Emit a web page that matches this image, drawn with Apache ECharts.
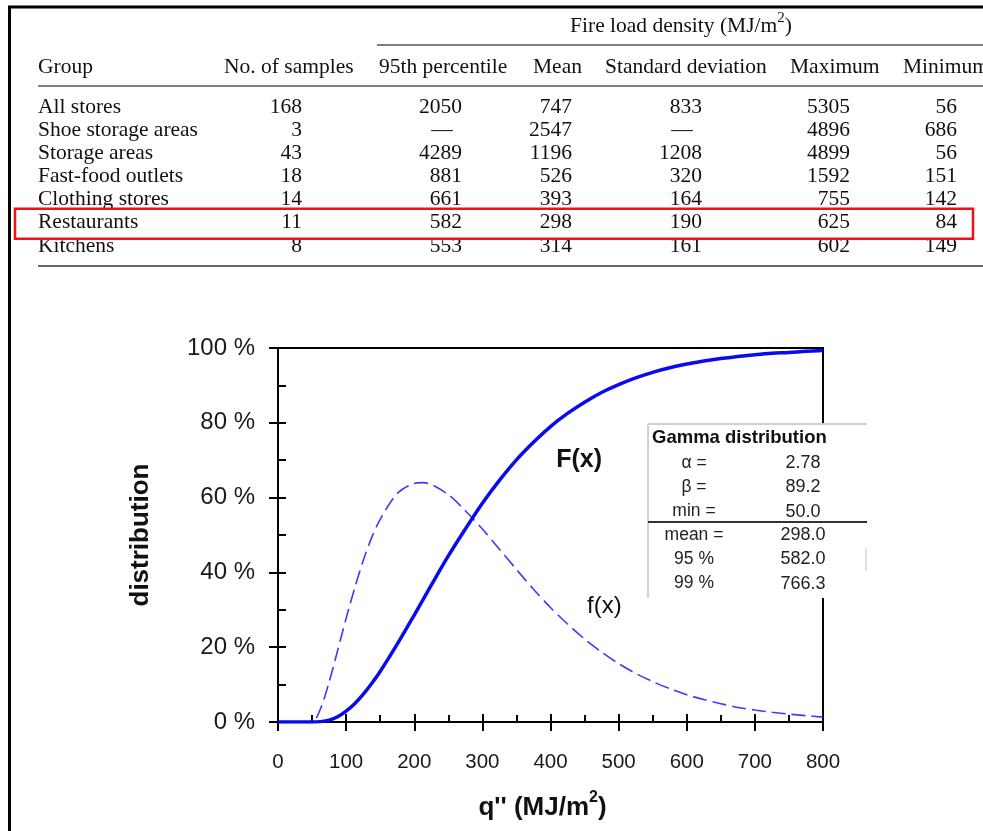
<!DOCTYPE html>
<html>
<head>
<meta charset="utf-8">
<script src="https://cdn.jsdelivr.net/npm/echarts@6/dist/echarts.min.js"></script>
<style>
  html, body { margin: 0; padding: 0; background: #fff; }
  #main { width: 983px; height: 831px; }
</style>
</head>
<body>
<div id="main"></div>
<script>
// ---- Table data: fire load density by occupancy group (MJ/m2) ----
const headers = ['Group', 'No. of samples', '95th percentile', 'Mean', 'Standard deviation', 'Maximum', 'Minimum'];
const groups = ['All stores', 'Shoe storage areas', 'Storage areas', 'Fast-food outlets', 'Clothing stores', 'Restaurants', 'Kitchens'];
const sampleCounts = [168, 3, 43, 18, 14, 11, 8];
const percentile95 = [2050, null, 4289, 881, 661, 582, 553];
const meanLoad = [747, 2547, 1196, 526, 393, 298, 314];
const stdDev = [833, null, 1208, 320, 164, 190, 161];
const maxLoad = [5305, 4896, 4899, 1592, 755, 625, 602];
const minLoad = [56, 686, 56, 151, 142, 84, 149];
const highlightedGroup = 'Restaurants';

// ---- Fitted gamma distribution for restaurants ----
const qValues   = [0, 25, 50, 62.5, 75, 87.5, 100, 112.5, 125, 137.5, 150, 175, 200, 212.5, 225, 250, 275, 300, 325, 350, 375, 400,
                   425, 450, 475, 500, 525, 550, 575, 600, 625, 650, 675, 700, 725, 750, 775, 800];
const cdfPercent = [0, 0, 0, 0.1, 0.5, 1.4, 2.9, 4.9, 7.4, 10.3, 13.5, 20.8, 28.6, 32.6, 36.6, 44.4, 51.6, 58.5, 64.6, 70.1, 74.8, 79.0,
                   82.5, 85.5, 88.1, 90.2, 92.0, 93.5, 94.7, 95.7, 96.5, 97.2, 97.7, 98.2, 98.6, 98.8, 99.1, 99.3];
const pdfPercent = [0, 0, 0, 3.6, 10.7, 19.1, 27.7, 35.8, 43.1, 49.3, 54.2, 61.1, 63.8, 64.0, 63.5, 60.8, 56.5, 51.6, 46.2, 40.8, 35.5, 30.6,
                   26.2, 22.2, 18.7, 15.6, 13.0, 10.8, 8.9, 7.3, 6.0, 4.9, 3.9, 3.2, 2.6, 2.1, 1.7, 1.3];
const gammaTitle = 'Gamma distribution';
const gammaParamLabels = ['\u03b1 =', '\u03b2 =', 'min ='];
const gammaParamValues = ['2.78', '89.2', '50.0'];
const gammaStatLabels = ['mean =', '95 %', '99 %'];
const gammaStatValues = ['298.0', '582.0', '766.3'];

// axis ranges
const qMin = 0, qMax = 800, qStep = 100;
const pMin = 0, pMax = 100, pStep = 20;

// ---- layout ----
const SERIF = '"Liberation Serif", "Times New Roman", serif';
const SANS = '"Liberation Sans", Arial, sans-serif';
const headerLeft = [38, 224, 379, 533, 605, 790, 903];
const valueRight = [302, 462, 572, 702, 850, 957];
const rowTop = 107, rowStep = 23.15;
const plot = { left: 278, right: 160, top: 348, bottom: 109 };

const chart = echarts.init(document.getElementById('main'), null, { renderer: 'canvas' });

function tableText(x, y, text, align) {
  return {
    type: 'text', x: x, y: y, silent: true,
    style: { text: text, fill: '#111', font: '21.5px ' + SERIF, align: align, textAlign: align,
             verticalAlign: 'middle', textVerticalAlign: 'middle' }
  };
}
function hline(x1, x2, y, color, w) {
  return { type: 'line', silent: true, shape: { x1: x1, y1: y, x2: x2, y2: y }, style: { stroke: color, lineWidth: w } };
}

const graphics = [];
// page frame
graphics.push(hline(8, 983, 7, '#000', 3));
graphics.push({ type: 'line', silent: true, shape: { x1: 9.5, y1: 6, x2: 9.5, y2: 831 }, style: { stroke: '#000', lineWidth: 3 } });

// table rules
graphics.push(hline(377, 983, 45, '#555', 1.5));
graphics.push(hline(38, 983, 86, '#555', 1.5));
graphics.push(hline(38, 983, 266, '#666', 2));

// table header
graphics.push({
  type: 'text', x: 681, y: 26, silent: true,
  style: {
    text: '{a|Fire load density (MJ/m}{s|2}{a|)}', align: 'center', textAlign: 'center',
    verticalAlign: 'middle', textVerticalAlign: 'middle',
    rich: {
      a: { fontFamily: SERIF, fontSize: 21.5, lineHeight: 30, fill: '#111', color: '#111' },
      s: { fontFamily: SERIF, fontSize: 15, lineHeight: 16, verticalAlign: 'top', fill: '#111', color: '#111' }
    }
  }
});
headers.forEach(function (h, i) { graphics.push(tableText(headerLeft[i], 67, h, 'left')); });

// table body
const numericCols = [sampleCounts, percentile95, meanLoad, stdDev, maxLoad, minLoad];
groups.forEach(function (g, r) {
  const y = rowTop + r * rowStep;
  graphics.push(tableText(headerLeft[0], y, g, 'left'));
  numericCols.forEach(function (col, c) {
    const v = col[r];
    if (v === null) {
      graphics.push(tableText(valueRight[c] - 20, y, '\u2014', 'center'));
    } else {
      graphics.push(tableText(valueRight[c], y, String(v), 'right'));
    }
  });
  if (g === highlightedGroup) {
    graphics.push({
      type: 'rect', silent: true, z: 10,
      shape: { x: 15, y: y - 14, width: 958, height: 30 },
      style: { fill: 'none', stroke: '#f0101a', lineWidth: 2.5 }
    });
  }
});

// gamma parameter panel
const panel = { type: 'group', x: 648, y: 424, z: 50, children: [] };
panel.children.push({ type: 'rect', shape: { x: 0, y: 0, width: 219, height: 174 }, style: { fill: '#fff' } });
panel.children.push({ type: 'line', shape: { x1: 0, y1: 0, x2: 219, y2: 0 }, style: { stroke: '#cfcfcf', lineWidth: 2 } });
panel.children.push({ type: 'line', shape: { x1: 0, y1: 0, x2: 0, y2: 174 }, style: { stroke: '#cfcfcf', lineWidth: 2 } });
panel.children.push({ type: 'line', shape: { x1: 0, y1: 98, x2: 219, y2: 98 }, style: { stroke: '#333', lineWidth: 2 } });
panel.children.push({ type: 'line', shape: { x1: 218, y1: 124, x2: 218, y2: 147 }, style: { stroke: '#d4d4d4', lineWidth: 1.5 } });
panel.children.push({
  type: 'text', x: 4, y: 14,
  style: { text: gammaTitle, fill: '#111', font: 'bold 18.5px ' + SANS, align: 'left', textAlign: 'left',
           verticalAlign: 'middle', textVerticalAlign: 'middle' }
});
function panelRow(label, value, y) {
  panel.children.push({
    type: 'text', x: 46, y: y,
    style: { text: label, fill: '#222', font: '17.5px ' + SANS, align: 'center', textAlign: 'center',
             verticalAlign: 'middle', textVerticalAlign: 'middle' }
  });
  panel.children.push({
    type: 'text', x: 155, y: y,
    style: { text: value, fill: '#222', font: '18px ' + SANS, align: 'center', textAlign: 'center',
             verticalAlign: 'middle', textVerticalAlign: 'middle' }
  });
}
gammaParamLabels.forEach(function (l, i) { panelRow(l, gammaParamValues[i], 39 + i * 24.3); });
gammaStatLabels.forEach(function (l, i) { panelRow(l, gammaStatValues[i], 111 + i * 24.3); });
graphics.push(panel);

const axisFont = { fontFamily: SANS, color: '#1a1a1a' };

function valueAxisX(gridIndex, inside) {
  return {
    type: 'value', gridIndex: gridIndex, min: qMin, max: qMax, interval: qStep,
    axisLine: { show: !inside, lineStyle: { color: '#000', width: 2 } },
    axisTick: { show: true, inside: inside, length: inside ? 8 : 9, lineStyle: { color: '#000', width: 2 } },
    minorTick: { show: inside, splitNumber: 2, length: 7, lineStyle: { color: '#000', width: 2 } },
    splitLine: { show: false },
    axisLabel: { show: !inside, margin: 30, fontSize: 20.5, ...axisFont },
    name: inside ? '' : "{a|q'' (MJ/m}{s|2}{a|)}{p|}",
    nameLocation: 'middle', nameGap: 68,
    nameTextStyle: {
      rich: {
        a: { fontFamily: SANS, fontSize: 26, fontWeight: 'bold', color: '#111', lineHeight: 36 },
        s: { fontFamily: SANS, fontSize: 16, fontWeight: 'bold', color: '#111', verticalAlign: 'top', lineHeight: 16 },
        p: { width: 16 }
      }
    }
  };
}
function valueAxisY(gridIndex, inside) {
  return {
    type: 'value', gridIndex: gridIndex, min: pMin, max: pMax, interval: pStep,
    axisLine: { show: !inside, lineStyle: { color: '#000', width: 2 } },
    axisTick: { show: true, inside: inside, length: inside ? 8 : 9, lineStyle: { color: '#000', width: 2 } },
    minorTick: { show: inside, splitNumber: 2, length: 8, lineStyle: { color: '#000', width: 2 } },
    splitLine: { show: false },
    axisLabel: { show: !inside, margin: 23, fontSize: 24, formatter: '{value} %', ...axisFont },
    name: inside ? '' : 'distribution',
    nameLocation: 'middle', nameGap: 124, nameRotate: 90,
    nameTextStyle: { fontFamily: SANS, fontSize: 26, fontWeight: 'bold', color: '#111' }
  };
}

const option = {
  backgroundColor: '#fff',
  animation: false,
  grid: [
    Object.assign({ show: true, borderColor: '#000', borderWidth: 2, backgroundColor: 'transparent' }, plot),
    Object.assign({ show: false }, plot)
  ],
  xAxis: [valueAxisX(0, false), valueAxisX(1, true)],
  yAxis: [valueAxisY(0, false), valueAxisY(1, true)],
  series: [
    {
      name: 'f(x)', type: 'line', xAxisIndex: 0, yAxisIndex: 0,
      data: qValues.map(function (q, i) { return [q, pdfPercent[i]]; }),
      showSymbol: false, smooth: 0.3, z: 3,
      lineStyle: { color: '#3b3bff', width: 1.6, type: [14, 6] }
    },
    {
      name: 'F(x)', type: 'line', xAxisIndex: 0, yAxisIndex: 0,
      data: qValues.map(function (q, i) { return [q, cdfPercent[i]]; }),
      showSymbol: false, smooth: 0.3, z: 4,
      lineStyle: { color: '#0a0aee', width: 3.5 }
    }
  ],
  graphic: { elements: graphics }
};
chart.setOption(option);

// curve captions anchored in data space
const capF = chart.convertToPixel({ gridIndex: 0 }, [442, 70]);
const capf = chart.convertToPixel({ gridIndex: 0 }, [479, 31]);
graphics.push({
  type: 'text', x: capF[0], y: capF[1], silent: true,
  style: { text: 'F(x)', fill: '#111', font: 'bold 25px ' + SANS, align: 'center', textAlign: 'center',
           verticalAlign: 'middle', textVerticalAlign: 'middle' }
});
graphics.push({
  type: 'text', x: capf[0], y: capf[1], silent: true,
  style: { text: 'f(x)', fill: '#111', font: '24px ' + SANS, align: 'center', textAlign: 'center',
           verticalAlign: 'middle', textVerticalAlign: 'middle' }
});
chart.setOption({ graphic: { elements: graphics } }, { replaceMerge: ['graphic'] });
</script>
</body>
</html>
